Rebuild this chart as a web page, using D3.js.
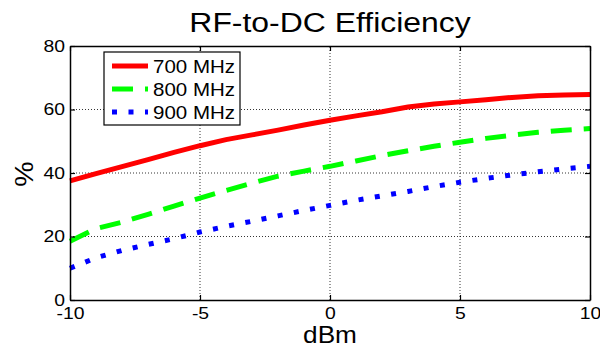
<!DOCTYPE html>
<html>
<head>
<meta charset="utf-8">
<script src="https://cdn.jsdelivr.net/npm/d3@7"></script>
<style>
  body { margin: 0; background: #fff; }
  svg { display: block; font-family: "Liberation Sans", Arial, sans-serif; }
</style>
</head>
<body>
<div class="chart"></div>
<script>
const WIDTH = 600;
const HEIGHT = 350;
const MARGIN = { top: 46, right: 10, bottom: 50, left: 70 };
const STRETCH = 1.14; // text in the reference is a bit wider than plain Arial

// data (dBm from -10 to 10, 1 dB steps)
const dbm = [-10, -9, -8, -7, -6, -5, -4, -3, -2, -1, 0, 1, 2, 3, 4, 5, 6, 7, 8, 9, 10];
const eff700 = [37.5, 39.8, 42.0, 44.2, 46.5, 48.6, 50.5, 52.0, 53.5, 55.1, 56.6, 58.0, 59.3, 60.8, 61.7, 62.4, 63.1, 63.8, 64.3, 64.6, 64.7];
const eff800 = [18.5, 22.5, 24.5, 27.0, 29.6, 32.1, 34.5, 36.8, 39.0, 40.6, 42.1, 43.8, 45.5, 47.0, 48.4, 49.7, 50.9, 51.9, 52.8, 53.5, 54.0];
const eff900 = [10.0, 13.3, 15.6, 17.5, 19.3, 21.4, 23.2, 24.8, 26.5, 28.2, 29.8, 31.4, 32.8, 34.2, 35.7, 37.1, 38.3, 39.4, 40.4, 41.3, 42.1];
const seriesNames = ['700 MHz', '800 MHz', '900 MHz'];
const xTicks = [-10, -5, 0, 5, 10];
const yTicks = [0, 20, 40, 60, 80];

const styles = [
	{ color: '#ff0000', dash: null },
	{ color: '#00ff00', dash: '21,12' },
	{ color: '#0000ff', dash: '5,11.5' }
];
const allSeries = [eff700, eff800, eff900];

const svg = d3
	.select('.chart')
	.append('svg')
	.attr('width', WIDTH)
	.attr('height', HEIGHT);

const x = d3.scaleLinear().domain([-10, 10]).range([MARGIN.left, WIDTH - MARGIN.right]);
const y = d3.scaleLinear().domain([0, 80]).range([HEIGHT - MARGIN.bottom, MARGIN.top]);

// places a horizontally stretched text at (tx, ty)
function label(parent, tx, ty, size, str, anchor, extra) {
	return parent.append('text')
		.attr('transform', `translate(${tx}, ${ty}) ${extra || ''} scale(${STRETCH}, 1)`)
		.attr('text-anchor', anchor || 'start')
		.style('font-size', size + 'px')
		.text(str);
}

// grid lines
const grid = svg.append('g').attr('stroke', '#000').attr('stroke-width', 0.8).attr('stroke-dasharray', '1,2');
grid.selectAll('.gx')
	.data(xTicks.slice(1, -1))
	.enter()
	.append('line')
	.attr('x1', d => x(d)).attr('x2', d => x(d))
	.attr('y1', y(0)).attr('y2', y(80));
grid.selectAll('.gy')
	.data(yTicks.slice(1, -1))
	.enter()
	.append('line')
	.attr('x1', x(-10)).attr('x2', x(10))
	.attr('y1', d => y(d)).attr('y2', d => y(d));

// data lines
const line = d3.line().x((d, i) => x(dbm[i])).y(d => y(d));
allSeries.forEach((s, k) => {
	svg.append('path')
		.datum(s)
		.attr('fill', 'none')
		.attr('stroke', styles[k].color)
		.attr('stroke-width', 5)
		.attr('stroke-dasharray', styles[k].dash)
		.attr('d', line);
});

// axes, ticks inward on all four sides; plain hyphen for negatives
const fmt = d => String(d);
const xAxis = d3.axisBottom(x).tickValues(xTicks).tickFormat(fmt).tickSizeInner(-5).tickSizeOuter(0).tickPadding(7);
const yAxis = d3.axisLeft(y).tickValues(yTicks).tickFormat(fmt).tickSizeInner(-5).tickSizeOuter(0).tickPadding(5);

svg.append('g')
	.attr('transform', `translate(0, ${y(0)})`)
	.call(xAxis);
svg.append('g')
	.attr('class', 'yaxis')
	.attr('transform', `translate(${x(-10)}, 0)`)
	.call(yAxis);
svg.append('g')
	.attr('transform', `translate(0, ${y(80)})`)
	.call(d3.axisTop(x).tickValues(xTicks).tickSizeInner(-5).tickSizeOuter(0).tickFormat(''));
svg.append('g')
	.attr('transform', `translate(${x(10)}, 0)`)
	.call(d3.axisRight(y).tickValues(yTicks).tickSizeInner(-5).tickSizeOuter(0).tickFormat(''));

svg.selectAll('.domain').attr('stroke', '#000').attr('stroke-width', 1.5);
svg.selectAll('.tick line').attr('stroke', '#000').attr('stroke-width', 1.2);
svg.selectAll('.tick text')
	.attr('fill', '#000')
	.attr('transform', `scale(${STRETCH}, 1)`)
	.style('font-size', '17px')
	.style('font-family', '"Liberation Sans", Arial, sans-serif');
svg.selectAll('.yaxis .tick text').attr('x', -5 / STRETCH);

// title and labels
label(svg, (x(-10) + x(10)) / 2, 32, 28, 'RF-to-DC Efficiency', 'middle');
label(svg, (x(-10) + x(10)) / 2, 343, 23, 'dBm', 'middle');
label(svg, 33, 174, 25, '%', 'middle', 'rotate(-90)');

// legend
const legend = svg.append('g').attr('transform', 'translate(104, 52)');
legend.append('rect')
	.attr('width', 136)
	.attr('height', 73)
	.attr('fill', '#fff')
	.attr('stroke', '#000')
	.attr('stroke-width', 1.2);
seriesNames.forEach((name, k) => {
	const ly = 14 + k * 23;
	legend.append('line')
		.attr('x1', 8).attr('x2', 44)
		.attr('y1', ly).attr('y2', ly)
		.attr('stroke', styles[k].color)
		.attr('stroke-width', 5)
		.attr('stroke-dasharray', styles[k].dash);
	label(legend, 49, ly + 6.5, 18, name);
});
</script>
</body>
</html>
